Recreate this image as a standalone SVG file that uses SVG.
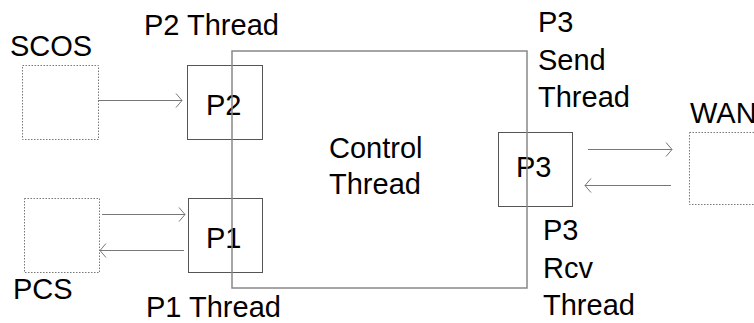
<svg xmlns="http://www.w3.org/2000/svg" width="754" height="323" viewBox="0 0 754 323">
<defs>
<style>
text{font-family:"Liberation Sans",Arial,sans-serif;font-size:29px;fill:#000}
.ext{fill:#fff;stroke:#777;stroke-width:1;stroke-dasharray:1.5 1.5}
.port{fill:#fff;stroke:#555;stroke-width:1}
.main{fill:none;stroke:#888;stroke-width:1.5}
.conn{fill:none;stroke:#777;stroke-width:1}
</style>
<marker id="arr" viewBox="0 0 8 16" refX="7" refY="8" markerWidth="8" markerHeight="16" markerUnits="userSpaceOnUse" orient="auto">
<path d="M1,1 L7,8 L1,15" fill="none" stroke="#777" stroke-width="1"/>
</marker>
</defs>
<rect width="754" height="323" fill="#fff"/>
<g id="scos">
<rect class="ext" x="22.5" y="65.5" width="76" height="74"/>
<text x="10" y="56">SCOS</text>
</g>
<g id="pcs">
<rect class="ext" x="24.5" y="198.5" width="75" height="74"/>
<text x="13" y="299">PCS</text>
</g>
<g id="wan">
<rect class="ext" x="689.5" y="132.5" width="80" height="72"/>
<text x="690" y="123">WAN</text>
</g>
<g id="p2">
<rect class="port" x="187.5" y="65.5" width="75" height="74"/>
<text x="206" y="115">P2</text>
<text x="144" y="35">P2 Thread</text>
</g>
<g id="p1">
<rect class="port" x="188.5" y="198.5" width="74" height="74"/>
<text x="206" y="248">P1</text>
<text x="146" y="317">P1 Thread</text>
</g>
<g id="p3">
<rect class="port" x="498.5" y="132.5" width="74" height="74"/>
<text x="516" y="177">P3</text>
<text x="538" y="32">P3</text>
<text x="538" y="70">Send</text>
<text x="538" y="107">Thread</text>
<text x="543" y="240">P3</text>
<text x="543" y="278">Rcv</text>
<text x="543" y="315">Thread</text>
</g>
<g id="control">
<rect class="main" x="232" y="51" width="295" height="237"/>
<text x="329" y="158">Control</text>
<text x="329" y="194">Thread</text>
</g>
<g id="connectors">
<line class="conn" x1="98" y1="100.5" x2="182" y2="100.5" marker-end="url(#arr)"/>
<line class="conn" x1="102" y1="214.5" x2="185" y2="214.5" marker-end="url(#arr)"/>
<line class="conn" x1="184" y1="250.5" x2="100" y2="250.5" marker-end="url(#arr)"/>
<line class="conn" x1="588" y1="149.5" x2="672" y2="149.5" marker-end="url(#arr)"/>
<line class="conn" x1="671" y1="185.5" x2="585" y2="185.5" marker-end="url(#arr)"/>
</g>
</svg>
